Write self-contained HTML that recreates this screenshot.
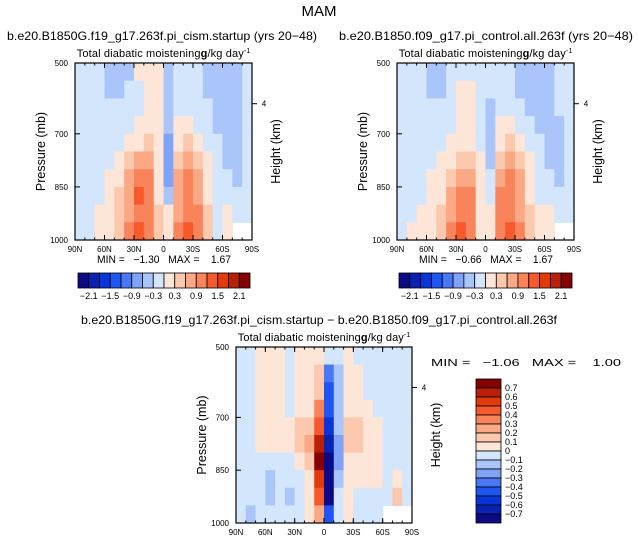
<!DOCTYPE html>
<html><head><meta charset="utf-8"><style>
html,body{margin:0;padding:0;background:#fff;}
svg{display:block;font-family:"Liberation Sans",sans-serif;}
text{white-space:pre;}
</style></head><body>
<svg id="c" width="638" height="544" viewBox="0 0 638 544"></svg>
<script>
// ---- data ----
const latLabels = ["90N","60N","30N","0","30S","60S","90S"];
const presTicks = [500,700,850,1000];
const topLevels = [-2.1,-1.8,-1.5,-1.2,-0.9,-0.6,-0.3,0,0.3,0.6,0.9,1.2,1.5,1.8,2.1];
const topLevelLabels = ["-2.1","-1.5","-0.9","-0.3","0.3","0.9","1.5","2.1"];
const diffLevels = [-0.7,-0.6,-0.5,-0.4,-0.3,-0.2,-0.1,0,0.1,0.2,0.3,0.4,0.5,0.6,0.7];
const palette = ["#0b0b88","#0a22b0","#0835da","#1f55f2","#4a78f5","#7fa3f8","#aac5fa","#d3e6fb","#fde6d8","#fcc8ae","#fba885","#f9845c","#f6592c","#e33a0c","#b8200a","#850202"];
const N=null;
// rows: 525..975 mb; cols: 85N..85S
const gridA = [
[-.1,-.1,-.1,-.4,-.4,-.4,.1,.1,.1,-.4,-.1,-.1,-.1,-.4,-.4,-.4,-.4,-.1],
[-.1,-.1,-.1,-.4,-.4,-.1,-.1,.1,.1,-.4,-.1,-.1,-.1,-.4,-.4,-.4,-.4,-.1],
[-.1,-.1,-.1,-.1,-.1,-.1,-.1,.1,.1,-.5,-.1,-.1,-.1,-.1,-.4,-.4,-.4,-.1],
[-.1,-.1,-.1,-.1,-.1,-.1,.1,.1,.1,-.5,.1,.1,-.1,-.1,-.4,-.4,-.4,-.1],
[-.1,-.1,-.1,-.1,-.1,.1,.2,.4,.1,-.7,.1,.4,.2,-.1,-.1,-.4,-.4,-.1],
[-.1,-.1,-.1,-.1,.1,.4,.7,.7,.2,-.8,.4,.7,.4,.1,-.1,-.4,-.4,-.1],
[-.1,-.1,-.1,.1,.2,.7,1.0,1.0,.2,-.9,.7,1.0,.7,.1,-.1,-.1,-.4,-.1],
[-.1,-.1,-.1,.1,.4,.7,1.3,1.0,.2,-.5,.7,1.0,.7,.1,-.1,-.1,-.1,-.1],
[-.1,-.1,.1,.1,.4,.7,1.0,1.0,.4,.1,.7,1.0,1.0,.4,-.1,.1,-.1,-.1],
[-.1,-.1,.1,.1,.4,1.0,1.3,1.0,.4,.1,1.0,1.3,1.0,.4,-.1,.1,N,N]];
const gridB = [
[-.1,-.1,-.1,-.4,-.4,-.1,-.1,-.1,-.1,-.1,-.1,-.1,-.4,-.4,-.4,-.4,-.1,-.1],
[-.1,-.1,-.1,-.4,-.4,-.1,.1,.1,-.1,-.1,-.1,-.1,-.4,-.4,-.4,-.4,-.1,-.1],
[-.1,-.1,-.1,-.1,-.1,-.1,.1,.1,-.1,-.4,-.1,-.1,-.1,-.4,-.4,-.4,-.1,-.1],
[-.1,-.1,-.1,-.1,-.1,-.1,.1,.1,-.1,-.4,.1,.1,-.1,-.1,-.4,-.4,-.4,-.1],
[-.1,-.1,-.1,-.1,-.1,.1,.2,.2,-.1,-.5,.2,.4,.2,-.1,-.1,-.4,-.4,-.1],
[-.1,-.1,-.1,-.1,.1,.2,.4,.4,.1,-.4,.4,.7,.4,.1,-.1,-.4,-.4,-.1],
[-.1,-.1,-.1,.1,.1,.4,.7,.7,.1,-.1,.7,1.0,.7,.1,-.1,-.1,-.4,-.1],
[-.1,-.1,-.1,.1,.2,.7,1.0,1.0,.1,-.1,1.0,1.0,.7,.1,-.1,-.1,-.1,-.1],
[-.1,-.1,.1,.1,.4,.7,1.0,1.0,.2,.1,1.0,1.0,.7,.4,.1,.1,-.1,-.1],
[-.1,.1,.1,.2,.4,1.0,1.3,1.0,.2,.1,1.0,1.3,1.0,.4,.1,.1,N,N]];
const gridD = [
[-.05,-.05,.05,.05,.05,-.05,.05,.05,.05,-.05,-.05,.05,-.05,-.05,-.05,-.05,-.05,-.05],
[-.05,-.05,.05,.05,.05,-.05,.05,.05,.15,-.35,-.15,.05,.05,-.05,-.05,-.05,-.05,-.05],
[-.05,-.05,.05,.05,.05,-.05,.05,.05,.15,-.45,-.15,.05,.05,-.05,-.05,-.05,-.05,-.05],
[-.05,-.05,.05,.05,.05,-.05,.05,.05,.35,-.45,-.15,.05,.05,.05,-.05,-.05,-.05,-.05],
[-.05,-.05,.05,.05,.05,.05,.15,.15,.45,-.55,-.15,.15,.15,.05,.05,-.05,-.05,-.05],
[-.05,-.05,.05,.05,.05,.05,.15,.25,.65,-.65,-.25,.15,.15,.05,.05,-.05,-.05,-.05],
[-.05,-.05,-.05,-.05,-.05,-.05,.05,.15,.75,-.85,-.25,.05,.05,.05,.05,-.05,-.05,-.05],
[-.05,-.05,-.05,-.15,-.05,-.05,-.05,.05,.55,-.85,-.15,.05,.05,.05,.05,-.05,.05,-.05],
[-.05,-.05,-.05,-.15,-.05,-.15,-.05,.05,.45,-.75,-.05,.05,-.05,-.05,-.05,-.05,.15,-.05],
[-.05,-.15,-.05,-.05,-.05,-.05,-.05,.05,.25,-.45,-.05,.05,-.05,-.05,-.05,N,N,N]];

const svg=document.getElementById('c');
const NS="http://www.w3.org/2000/svg";
function mk(tag,attrs,parent){const e=document.createElementNS(NS,tag);for(const k in attrs)e.setAttribute(k,attrs[k]);(parent||svg).appendChild(e);return e;}
function txt(s,x,y,size,anchor,parent,rot){const t=mk('text',{x:x,y:y,'font-size':size,'text-anchor':anchor||'middle',fill:'#000'},parent);if(rot)t.setAttribute('transform',`rotate(${rot} ${x} ${y})`);t.textContent=s;return t;}
function colorFor(v,levels){let i=0;while(i<levels.length&&v>=levels[i])i++;return palette[i];}

function panel(name,x0,y0,w,h,grid,levels){
  const g=mk('g',{});
  
  
  const xs=lat=> x0+(90-lat)/180*w;
  const ys=p=> y0+(p-500)/500*h;
  const nr=grid.length,nc=grid[0].length;
  for(let r=0;r<nr;r++)for(let c=0;c<nc;c++){
    const v=grid[r][c]; if(v===null) continue;
    const latL=90-c*180/nc, latR=90-(c+1)*180/nc;
    const pT=500+r*500/nr, pB=500+(r+1)*500/nr;
    const cell=mk('rect',{x:xs(latL),y:ys(pT),width:xs(latR)-xs(latL)+0.6,height:ys(pB)-ys(pT)+0.6,fill:colorFor(v,levels)},g);
    
    
  }
  mk('rect',{x:x0,y:y0,width:w,height:h,fill:'none',stroke:'#000','stroke-width':1.2},g);
  latLabels.forEach((l,i)=>{const x=x0+i*w/6;
    mk('line',{x1:x,y1:y0+h,x2:x,y2:y0+h-5,stroke:'#000'},g);
    mk('line',{x1:x,y1:y0,x2:x,y2:y0+5,stroke:'#000'},g);
    const t=txt(l,x,y0+h+12,8,'middle',g);});
  for(let i=0;i<=18;i++){const x=x0+i*w/18;
    mk('line',{x1:x,y1:y0+h,x2:x,y2:y0+h-2.5,stroke:'#000'},g);
    mk('line',{x1:x,y1:y0,x2:x,y2:y0+2.5,stroke:'#000'},g);}
  presTicks.forEach(p=>{const y=ys(p);
    mk('line',{x1:x0,y1:y,x2:x0+5,y2:y,stroke:'#000'},g);
    const t=txt(String(p),x0-7,y+3,8,'end',g);});
  const yh=y0+h*0.23;
  mk('line',{x1:x0+w,y1:yh,x2:x0+w+5,y2:yh,stroke:'#000'},g);
  txt('4',x0+w+12,yh+3,8,'middle',g);
  const py=txt('Pressure (mb)',x0-30,y0+h/2,12.5,'middle',g,-90);
  const hy=txt('Height (km)',x0+w+28,y0+h/2,12.5,'middle',g,-90);
  const tt=mk('text',{x:x0+w/2,y:y0-6,'font-size':11,'text-anchor':'middle',textLength:w*0.98,lengthAdjust:'spacing'},g);
  
  tt.innerHTML='Total diabatic moistening<tspan font-weight="bold">g</tspan>/kg day<tspan dy="-4" font-size="7">-1</tspan>';
  return g;
}

function hbar(name,x0,y0,w,h){
  const g=mk('g',{});
  
  
  const bw=w/palette.length;
  palette.forEach((c,i)=>{const b=mk('rect',{x:x0+i*bw,y:y0,width:bw,height:h,fill:c,stroke:'#000','stroke-width':0.8},g);
    });
  topLevelLabels.forEach((l,i)=>{const t=txt(l.replace('-','\u2212'),x0+(1+2*i)*bw,y0+h+11,9,'middle',g);
    });
}
function vbar(name,x0,y0,w,h){
  const g=mk('g',{});
  
  
  const bh=h/palette.length;
  palette.slice().reverse().forEach((c,i)=>{const b=mk('rect',{x:x0,y:y0+i*bh,width:w,height:bh,fill:c,stroke:'#000','stroke-width':0.8},g);
    });
  diffLevels.slice().reverse().forEach((l,i)=>{const t=txt(String(l).replace('-','\u2212'),x0+w+4,y0+(i+1)*bh+3,9,'start',g);
    });
}
function fitted(s,x,y,size,anchor,len,name){const t=txt(s,x,y,size,anchor);t.setAttribute('textLength',len);t.setAttribute('lengthAdjust','spacingAndGlyphs');
  return t;}

const title=txt('MAM',319,16,15,'middle');

fitted('b.e20.B1850G.f19_g17.263f.pi_cism.startup (yrs 20\u221248)',162,40,12,'middle',310,'left-panel-subtitle');
fitted('b.e20.B1850.f09_g17.pi_control.all.263f (yrs 20\u221248)',486,40,12,'middle',294,'right-panel-subtitle');
fitted('b.e20.B1850G.f19_g17.263f.pi_cism.startup \u2212 b.e20.B1850.f09_g17.pi_control.all.263f',319,324,12,'middle',476,'diff-panel-subtitle');

panel('panel-cism-startup',75,63,177,177,gridA,topLevels);
panel('panel-control',397,63,177,177,gridB,topLevels);
panel('panel-difference',236,347,176,176,gridD,diffLevels);

fitted('MIN =   \u22121.30   MAX =    1.67',164,263,11,'middle',134,'left-min-max');
fitted('MIN =   \u22120.66   MAX =    1.67',486,263,11,'middle',134,'right-min-max');
fitted('MIN =   \u22121.06   MAX =    1.00',431,366,10.5,'start',190,'diff-min-max');

hbar('left-colorbar',78,273,172,15);
hbar('right-colorbar',399,273,173,15);
vbar('diff-colorbar',476,379,25,144);
</script>
</body></html>
